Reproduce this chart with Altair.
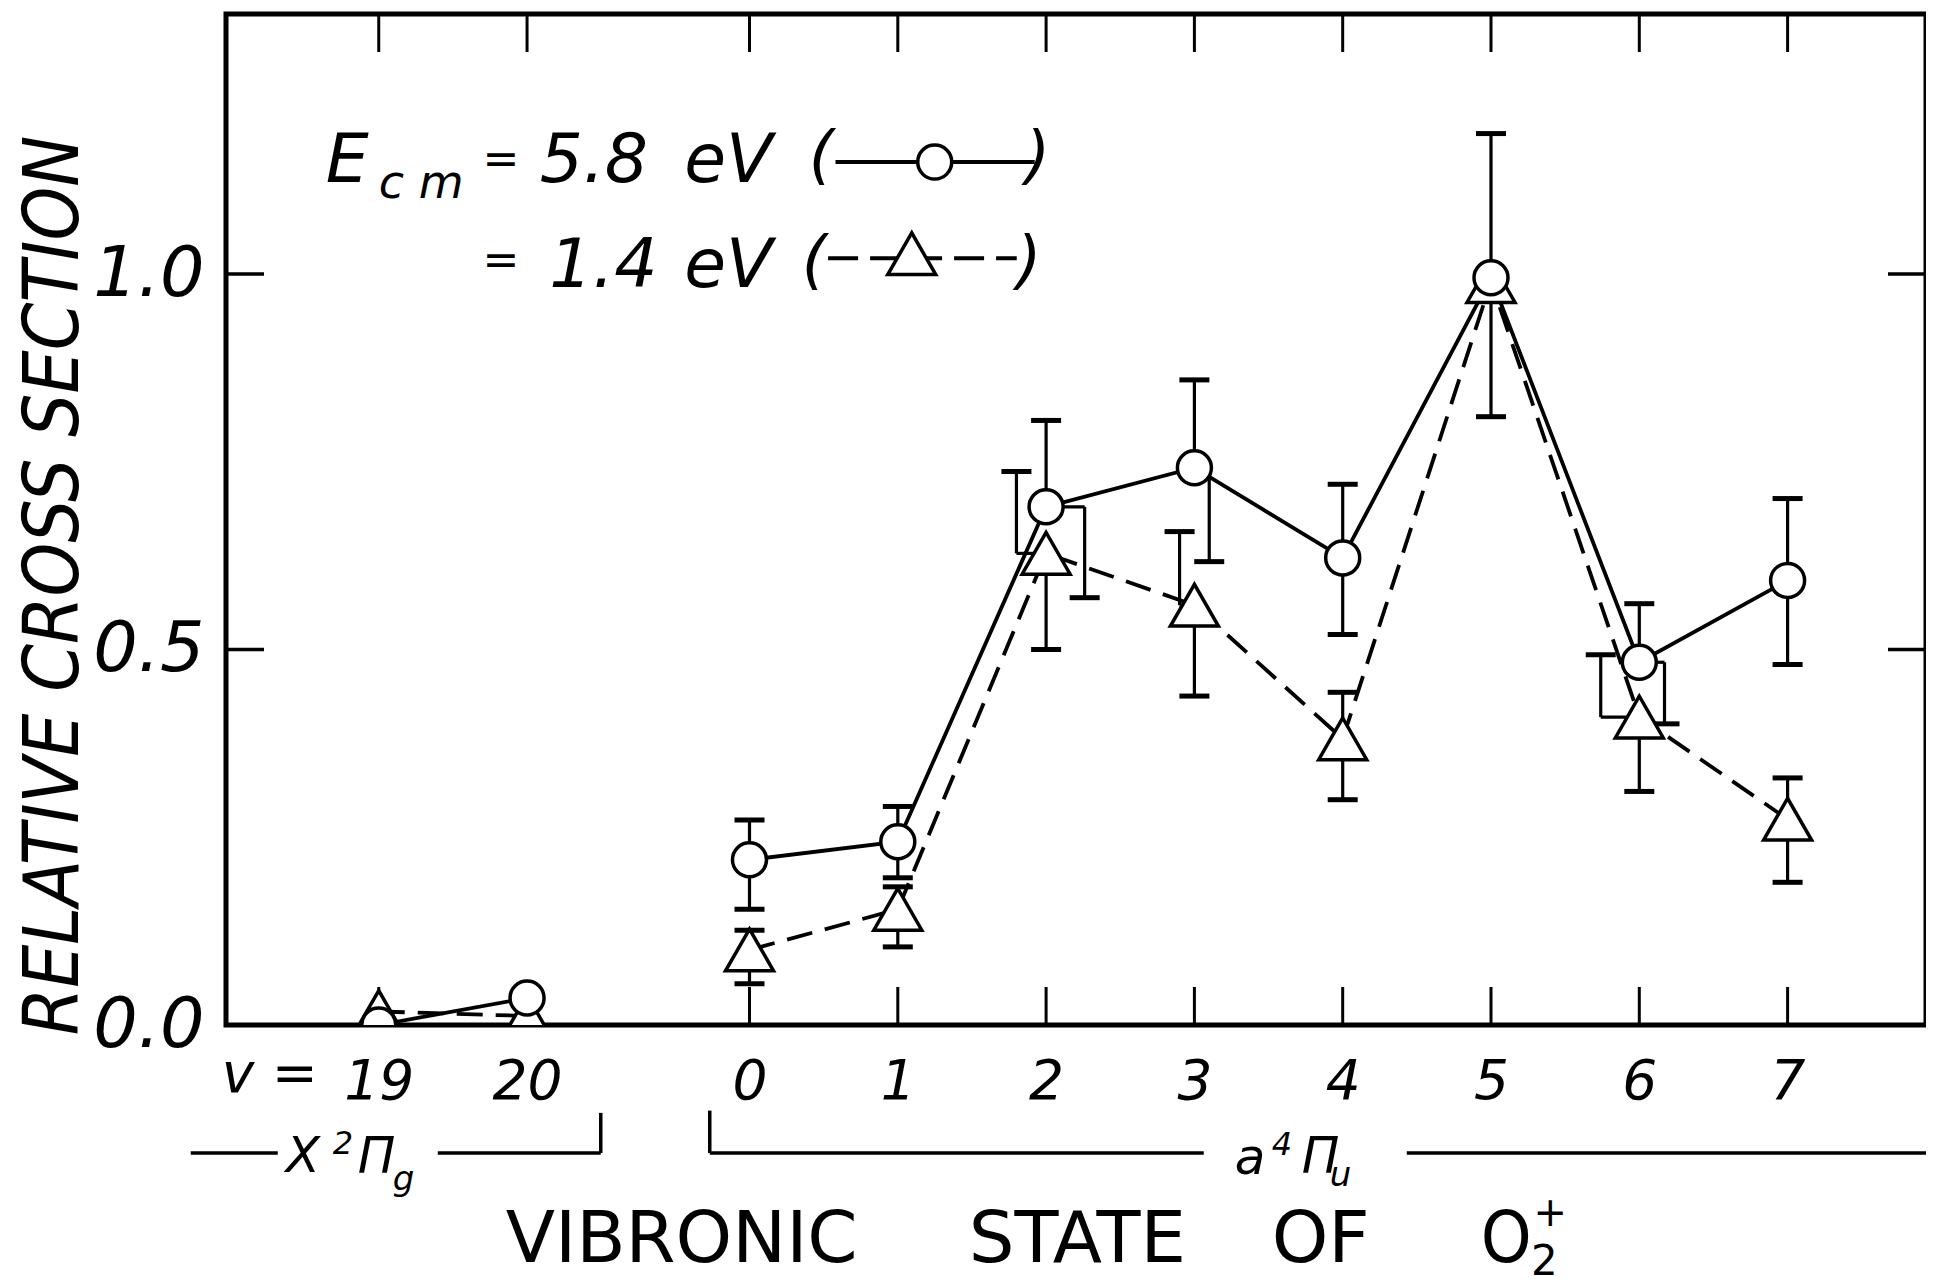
import altair as alt
import pandas as pd

# ---------------- data ----------------
STATES = ["19", "20", "0", "1", "2", "3", "4", "5", "6", "7"]
XPOS = [0, 1, 2.5, 3.5, 4.5, 5.5, 6.5, 7.5, 8.5, 9.5]
BAND = ["X", "X", "a", "a", "a", "a", "a", "a", "a", "a"]   # electronic state of O2+

# Ecm = 5.8 eV (circles, solid line)
HIGH_Y = [0.0, 0.036, 0.220, 0.244, 0.690, 0.742, 0.622, 0.995, 0.483, 0.592]
HIGH_LO = [None, None, 0.154, 0.196, 0.569, 0.617, 0.520, 0.810, 0.401, 0.480]
HIGH_HI = [None, None, 0.273, 0.291, 0.805, 0.859, 0.720, 1.187, 0.561, 0.701]

# Ecm = 1.4 eV (triangles, dashed line)
LOW_Y = [0.018, 0.012, 0.100, 0.154, 0.628, 0.559, 0.381, 0.990, 0.410, 0.274]
LOW_LO = [None, None, 0.055, 0.104, 0.500, 0.438, 0.300, None, 0.311, 0.190]
LOW_HI = [None, None, 0.126, 0.184, 0.737, 0.657, 0.443, None, 0.493, 0.329]

Y_TICKS = [0.5, 1.0]
Y_LABELS = [0.0, 0.5, 1.0]

# ---------------- drawing geometry ----------------
W, H = 1700, 1011
XMIN = -1.03
XMAX = XMIN + W / 148.3
YMAX = H / 751.0
FONT = "DejaVu Sans"
FONT_C = "DejaVu Sans Condensed, DejaVu Sans"

# horizontal shifts of some error-bar halves (as drawn in the original)
SHIFT_HIGH_LOWER = {"2": 0.26, "3": 0.10, "6": 0.17}
SHIFT_LOW_UPPER = {"2": -0.20, "3": -0.10, "6": -0.26}

xs = alt.Scale(domain=[XMIN, XMAX], nice=False, zero=False)
ys = alt.Scale(domain=[0, YMAX], nice=False, zero=False)

label_expr = " : ".join(
    [f"datum.value == {p} ? '{s}'" for p, s in zip(XPOS, STATES)]
) + " : ''"

AX = alt.Axis(
    values=XPOS, labelExpr=label_expr, title=None, grid=False, domain=False,
    ticks=False, tickSize=0, labelPadding=30, labelBaseline="top",
    labelFontSize=55, labelFontStyle="italic", labelFont=FONT, labelColor="black",
    labelFlush=False, labelOverlap=False)
AY = alt.Axis(
    values=Y_LABELS, format=".1f", grid=False, domain=False, ticks=False, tickSize=0,
    labelPadding=22, labelFontSize=70, labelFontStyle="italic", labelFont=FONT,
    labelColor="black", labelBaseline="middle", labelFlush=False, labelOverlap=False,
    title="RELATIVE  CROSS  SECTION", titleFontSize=76, titleFontStyle="italic",
    titleFontWeight="normal", titleFont=FONT_C, titleColor="black",
    titleAngle=270, titleX=-172, titleY=571, titleAlign="center",
    titleBaseline="middle")


def X(field=None, datum=None):
    if datum is not None:
        return alt.X(datum=datum, type="quantitative", scale=xs, axis=AX)
    return alt.X(field, type="quantitative", scale=xs, axis=AX)


def Y(field=None, datum=None):
    if datum is not None:
        return alt.Y(datum=datum, type="quantitative", scale=ys, axis=AY)
    return alt.Y(field, type="quantitative", scale=ys, axis=AY)


high = pd.DataFrame({"x": XPOS, "y": HIGH_Y, "state": STATES, "band": BAND})
low = pd.DataFrame({"x": XPOS, "y": LOW_Y, "state": STATES, "band": BAND})

rows = []
for ylist, lo, hi, sh_lo, sh_hi in [
    (HIGH_Y, HIGH_LO, HIGH_HI, SHIFT_HIGH_LOWER, {}),
    (LOW_Y, LOW_LO, LOW_HI, {}, SHIFT_LOW_UPPER),
]:
    for i, st in enumerate(STATES):
        if lo[i] is not None:
            rows.append({"x": XPOS[i], "xo": XPOS[i] + sh_lo.get(st, 0.0), "v": ylist[i], "cap": lo[i]})
        if hi[i] is not None:
            rows.append({"x": XPOS[i], "xo": XPOS[i] + sh_hi.get(st, 0.0), "v": ylist[i], "cap": hi[i]})
err = pd.DataFrame(rows)

one = pd.DataFrame({"a": [0]})

# ---------------- inward frame ticks ----------------
xt = pd.DataFrame({"x": XPOS})
yt = pd.DataFrame({"y": Y_TICKS})
TL = 38
top_ticks = alt.Chart(xt).mark_rule(color="black", strokeWidth=3).encode(
    x=X("x"), y=alt.value(0), y2=alt.value(TL))
bot_ticks = alt.Chart(xt).mark_rule(color="black", strokeWidth=3).encode(
    x=X("x"), y=alt.value(H), y2=alt.value(H - TL))
left_ticks = alt.Chart(yt).mark_rule(color="black", strokeWidth=3.5).encode(
    y=Y("y"), x=alt.value(0), x2=alt.value(TL))
right_ticks = alt.Chart(yt).mark_rule(color="black", strokeWidth=3.5).encode(
    y=Y("y"), x=alt.value(W - TL), x2=alt.value(W))

# ---------------- data marks ----------------
line_low = alt.Chart(low).mark_line(color="black", strokeWidth=3.8, strokeDash=[26, 13]).encode(
    x=X("x"), y=Y("y"), detail="band:N")
line_high = alt.Chart(high).mark_line(color="black", strokeWidth=3.8).encode(
    x=X("x"), y=Y("y"), detail="band:N")

conn = alt.Chart(err).mark_rule(color="black", strokeWidth=3.2).encode(
    x=X("x"), x2="xo:Q", y=Y("v"))
bars = alt.Chart(err).mark_rule(color="black", strokeWidth=3.2).encode(
    x=X("xo"), y=Y("v"), y2="cap:Q")
caps = alt.Chart(err).mark_tick(color="black", orient="horizontal", size=30, thickness=5,
                                opacity=1).encode(x=X("xo"), y=Y("cap"))

TRI = "M0,-0.87L-1,0.87L1,0.87Z"
pts_low = alt.Chart(low).mark_point(shape=TRI, size=2304, filled=True, fill="white",
                                    stroke="black", strokeWidth=3.5, opacity=1, clip=True).encode(
    x=X("x"), y=Y("y"))
pts_high = alt.Chart(high).mark_point(shape="circle", size=1156, filled=True, fill="white",
                                      stroke="black", strokeWidth=3.5, opacity=1, clip=True).encode(
    x=X("x"), y=Y("y"))


# ---------------- annotations ----------------
def txt(text, x, y, size, align="left", baseline="middle", style="italic", font=FONT):
    return alt.Chart(one).mark_text(
        text=text, align=align, baseline=baseline, fontSize=size, fontStyle=style,
        font=font, color="black", clip=False).encode(x=X(datum=x), y=Y(datum=y))


def seg(x1, x2, y1, y2=None, dash=None, width=3.5):
    kw = {"color": "black", "strokeWidth": width, "clip": False}
    if dash:
        kw["strokeDash"] = dash
    enc = {"x": X(datum=x1), "x2": alt.datum(x2), "y": Y(datum=y1)}
    if y2 is not None:
        enc["y2"] = alt.datum(y2)
    return alt.Chart(one).mark_rule(**kw).encode(**enc)


def sym(shape, size, x, y):
    return alt.Chart(one).mark_point(shape=shape, size=size, filled=True, fill="white",
                                     stroke="black", strokeWidth=3.5, opacity=1).encode(
        x=X(datum=x), y=Y(datum=y))


legend = [
    txt("E", -0.357, 1.1225, 68, baseline="alphabetic"),
    txt("c m", 0.0, 1.101, 46, baseline="alphabetic"),
    txt("=", 0.70, 1.150, 44),
    txt("5.8", 1.086, 1.1225, 68, baseline="alphabetic"),
    txt("eV", 2.06, 1.1225, 68, baseline="alphabetic"),
    txt("(", 2.90, 1.154, 64),
    seg(3.08, 4.423, 1.149, width=4),
    sym("circle", 1156, 3.749, 1.149),
    txt(")", 4.36, 1.154, 64),
    txt("=", 0.70, 1.016, 44),
    txt("1.4", 1.15, 0.9827, 68, baseline="alphabetic"),
    txt("eV", 2.06, 0.9827, 68, baseline="alphabetic"),
    txt("(", 2.853, 1.015, 64),
    seg(3.03, 4.302, 1.021, dash=[30, 12], width=4),
    sym(TRI, 2304, 3.594, 1.027),
    txt(")", 4.30, 1.015, 64),
]

below = [
    txt("v =", -0.411, -0.0666, 55, align="right"),
    # X 2Pi_g bracket
    seg(-1.268, -0.681, -0.1704),
    txt("X", -0.627, -0.176, 50),
    txt("2", -0.31, -0.158, 32),
    txt("Π", -0.142, -0.176, 50),
    txt("g", 0.094, -0.206, 34),
    seg(0.398, 1.497, -0.1704),
    seg(1.497, 1.497, -0.117, -0.1704),
    # a 4Pi_u bracket
    seg(2.232, 2.232, -0.114, -0.1704),
    seg(2.232, 5.563, -0.1704),
    txt("a", 5.772, -0.178, 50),
    txt("4", 6.022, -0.160, 32),
    txt("Π", 6.224, -0.176, 50),
    txt("u", 6.413, -0.201, 34),
    seg(6.932, 10.6, -0.1704),
    # axis title
    txt("VIBRONIC", 0.856, -0.286, 72, style="normal"),
    txt("STATE", 3.978, -0.286, 72, style="normal"),
    txt("OF", 6.021, -0.286, 72, style="normal"),
    txt("O", 7.431, -0.286, 72, style="normal", font=FONT_C),
    txt("+", 7.90, -0.252, 40, align="center", style="normal"),
    txt("2", 7.86, -0.316, 42, align="center", style="normal"),
]

chart = alt.layer(
    top_ticks, bot_ticks, left_ticks, right_ticks,
    line_low, line_high, conn, bars, caps, pts_low, pts_high,
    *legend, *below,
).properties(
    width=W, height=H,
    autosize=alt.AutoSizeParams(type="none"),
    padding={"left": 218, "top": 6, "right": 0, "bottom": 253},
    background="white",
).configure_view(stroke="black", strokeWidth=5)

chart.save("out.html", embed_options={"renderer": "svg", "actions": False})
